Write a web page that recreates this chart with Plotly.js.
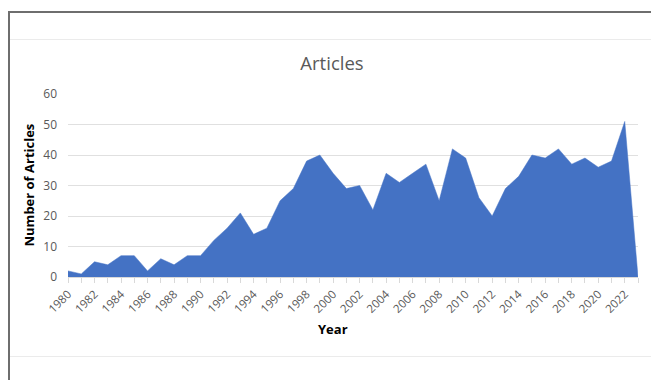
<!DOCTYPE html>
<html>
<head>
<meta charset="utf-8">
<script src="https://cdn.plot.ly/plotly-3.0.1.min.js"></script>
<style>
html,body{margin:0;padding:0;background:#fff;}
#wrap{position:relative;width:651px;height:380px;overflow:hidden;}
#chart{position:absolute;left:0;top:0;width:651px;height:380px;}
.ln{position:absolute;}
</style>
</head>
<body>
<div id="wrap">
<div id="chart"></div>
<div class="ln" style="left:8px;top:11px;width:643px;height:2px;background:#6e6e6e;"></div>
<div class="ln" style="left:8px;top:11px;width:2px;height:369px;background:#6e6e6e;"></div>
<div class="ln" style="left:10px;top:39px;width:641px;height:1px;background:#ebebeb;"></div>
<div class="ln" style="left:10px;top:356px;width:641px;height:1px;background:#ebebeb;"></div>
</div>
<script>
const years = [];
for (let y = 1980; y <= 2023; y++) years.push(y);
const articles = [2,1,5,4,7,7,2,6,4,7,7,12,16,21,14,16,25,29,38,40,34,29,30,22,34,31,34,37,25,42,39,26,20,29,33,40,39,42,37,39,36,38,51,0];
const tickYears = [1980,1982,1984,1986,1988,1990,1992,1994,1996,1998,2000,2002,2004,2006,2008,2010,2012,2014,2016,2018,2020,2022];
const tickLabels = tickYears.map(String);

const trace = {
  x: years, y: articles, type: 'scatter', mode: 'lines',
  fill: 'tozeroy', fillcolor: '#4472C4',
  line: {color: '#4472C4', width: 0.5},
  hoverinfo: 'x+y'
};
const layout = {
  width: 651, height: 380,
  margin: {l: 68, r: 13, t: 94, b: 103},
  paper_bgcolor: 'rgba(0,0,0,0)', plot_bgcolor: 'rgba(0,0,0,0)',
  showlegend: false,
  font: {family: 'Open Sans, sans-serif', color: '#595959'},
  title: {text: 'Articles', xref: 'container', x: 332/651, xanchor: 'center', y: 1 - 64/380, yanchor: 'middle',
          font: {size: 18.5, color: '#595959', family: 'Open Sans, sans-serif'}},
  xaxis: {
    range: [1980, 2023], tickvals: tickYears, ticktext: tickLabels,
    tickangle: -45, tickfont: {size: 11.5, color: '#595959'},
    ticks: 'outside', ticklen: 5, tickcolor: '#d9d9d9',
    minor: {dtick: 1, tick0: 1980, ticks: 'outside', ticklen: 5, tickcolor: '#d9d9d9', showgrid: false},
    showline: true, linecolor: '#d9d9d9', linewidth: 1,
    showgrid: false, zeroline: false, fixedrange: true
  },
  yaxis: {
    range: [0, 60], dtick: 10, tickfont: {size: 12, color: '#595959'},
    showgrid: true, gridcolor: '#e0e0e0', gridwidth: 1,
    zeroline: false, showline: false, ticks: '', ticklen: 0, ticklabelstandoff: 10, fixedrange: true
  },
  annotations: [
    {text: 'Year', xref: 'paper', yref: 'paper', x: (333-68)/570, y: -(329-277)/183,
     xanchor: 'center', yanchor: 'middle', showarrow: false,
     font: {size: 13, color: '#000', family: 'Open Sans, sans-serif', weight: 'bold'}},
    {text: 'Number of Articles', xref: 'paper', yref: 'paper', x: (28-68)/570, y: (277-185.5)/183,
     xanchor: 'center', yanchor: 'middle', showarrow: false, textangle: -90,
     font: {size: 13, color: '#000', family: 'Open Sans, sans-serif', weight: 'bold'}}
  ]
};
Plotly.newPlot('chart', [trace], layout, {displayModeBar: false, staticPlot: true});
</script>
</body>
</html>
